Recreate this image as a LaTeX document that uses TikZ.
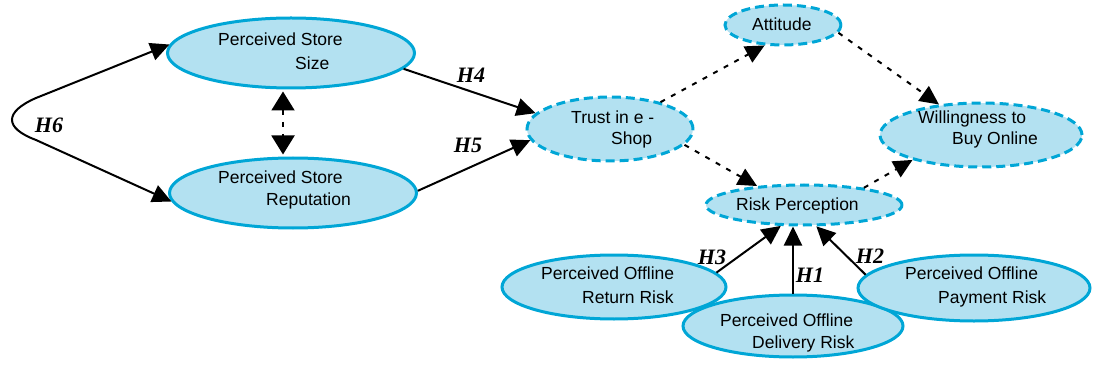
\documentclass[tikz,border=0pt]{standalone}
\usepackage{fontspec}
\setmainfont{Liberation Sans}
\newfontfamily\hypfont{Liberation Serif}
\usetikzlibrary{shapes.geometric,arrows.meta,calc}
\definecolor{bubble}{HTML}{B3E1F1}
\definecolor{rim}{HTML}{00A6D6}
\tikzset{
  construct/.style={ellipse, draw=rim, fill=bubble, line width=3pt, inner sep=0pt},
  latent/.style={construct, dash pattern=on 9pt off 5pt},
  txt/.style={anchor=base west, inner sep=0pt, font=\fontsize{17.5}{19}\selectfont},
  hyp/.style={inner sep=0pt, font=\hypfont\bfseries\itshape\fontsize{22}{24}\selectfont},
  tip/.tip={Triangle[length=19pt,width=18pt]},
  widetip/.tip={Triangle[length=19pt,width=23pt]},
  link/.style={line width=2pt, -tip},
  dlink/.style={link, dash pattern=on 5pt off 7pt},
}
\begin{document}
\begin{tikzpicture}[x=1pt,y=-1pt]
\useasboundingbox (0,0) rectangle (1094,366);

% constructs
\node[construct, minimum width=247pt, minimum height=70pt] (size) at (291,53) {};
\node[construct, minimum width=247pt, minimum height=70pt] (rep) at (293,193) {};
\node[latent, minimum width=166pt, minimum height=64pt] (trust) at (610,129) {};
\node[latent, minimum width=116pt, minimum height=40pt] (att) at (783,25) {};
\node[latent, minimum width=202pt, minimum height=64pt] (will) at (981,135) {};
\node[latent, minimum width=196pt, minimum height=40pt] (risk) at (804,205) {};
\node[construct, minimum width=224pt, minimum height=64pt] (ret) at (614,287) {};
\node[construct, minimum width=220pt, minimum height=62pt] (del) at (793,326) {};
\node[construct, minimum width=232pt, minimum height=66pt] (pay) at (974,288) {};

% construct labels
\node[txt] (size1) at (218,46) {Perceived Store};
\node[txt] (size2) at (295,70) {Size};
\node[txt] (rep1) at (218,184) {Perceived Store};
\node[txt] (rep2) at (266,205) {Reputation};
\node[txt] (trust1) at (571,124) {Trust in e -};
\node[txt] (trust2) at (611,145) {Shop};
\node[txt] (att1) at (752,31) {Attitude};
\node[txt] (will1) at (918,124) {Willingness to};
\node[txt] (will2) at (952,145) {Buy Online};
\node[txt] (risk1) at (736,211) {Risk Perception};
\node[txt] (ret1) at (541,279) {Perceived Offline};
\node[txt] (ret2) at (582,303) {Return Risk};
\node[txt] (del1) at (720,326) {Perceived Offline};
\node[txt] (del2) at (752,348) {Delivery Risk};
\node[txt] (pay1) at (905,279) {Perceived Offline};
\node[txt] (pay2) at (938,303) {Payment Risk};

% hypothesised paths
\draw[link, tip-tip]
  (size.176) -- (36,98) .. controls (4,112) and (4,128) .. (36,140) -- (rep.184);
\draw[link] (size.352) -- (trust.168);
\draw[link] (rep.1) -- (trust.188);
\draw[dlink, widetip-widetip]
  ($(size.south)+(-8,2)$) -- ($(rep.north)+(-10,-2)$);
\draw[dlink] (trust.28) -- (att.228);
\draw[dlink] (trust.348) -- (risk.158);
\draw[dlink] (att.352) -- (will.144);
\draw[dlink] (risk.16) -- (will.200);
\draw[link] (ret.8) -- (risk.222);
\draw[link] (del.north) -- (del.north |- risk.south);
\draw[link] (pay.173) -- (risk.300);

% hypothesis labels
\node[hyp] (h6) at (49,125) {H6};
\node[hyp] (h4) at (471,75) {H4};
\node[hyp] (h5) at (468,145) {H5};
\node[hyp] (h3) at (712,257) {H3};
\node[hyp] (h1) at (810,275) {H1};
\node[hyp] (h2) at (870,256) {H2};
\end{tikzpicture}
\end{document}
